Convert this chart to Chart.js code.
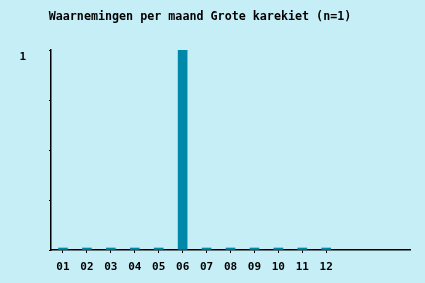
<!DOCTYPE html>
<html>
<head>
<meta charset="utf-8">
<script src="https://cdn.jsdelivr.net/npm/chart.js@4"></script>
<style>
  html, body { margin: 0; padding: 0; background: #c6eef6; }
  #wrap { width: 425px; height: 283px; }
</style>
</head>
<body>
<div id="wrap"><canvas id="maandgraf"></canvas></div>
<script>
// months 01..12, plus 3 empty slots the original axis runs on into
const maanden = ["01","02","03","04","05","06","07","08","09","10","11","12","","",""];
const aantallen = [0,0,0,0,0,1,0,0,0,0,0,0,null,null,null];
const titel = "Waarnemingen per maand Grote karekiet (n=1)";

const mono = "'DejaVu Sans Mono', 'Liberation Mono', monospace";

let maandChart = new Chart(document.getElementById("maandgraf"), {
    type: 'bar',
    data: {
    labels: maanden,
    datasets: [{
        data: aantallen,
        backgroundColor: "#0088a8",
        barThickness: 9,
        minBarLength: 2
        }]
    },
    options: {
    responsive: true,
    maintainAspectRatio: false,
    animation: false,
    layout: { padding: { left: -10, right: 15, top: 10, bottom: 9 } },
    plugins: {
        legend: { display: false },
        tooltip: { enabled: false },
        title: {
        display: true,
        text: titel,
        color: "#000",
        font: { family: mono, size: 11.7, weight: 'bold' },
        padding: { top: 0, bottom: 26 }
        }
    },
    scales: {
        x: {
        afterFit: s => { s.height = 24; },
        grid: {
            display: true,
            drawOnChartArea: false,
            offset: false,
            tickLength: 3,
            tickColor: ctx => ctx.index < 12 ? "#000" : "rgba(0,0,0,0)"
        },
        border: { color: "#000", width: 1.5 },
        ticks: {
            color: "#000",
            padding: 8,
            maxRotation: 0,
            autoSkip: false,
            font: { family: mono, size: 11, weight: 'bold' }
        }
        },
        y: {
        min: 0,
        max: 1,
        afterFit: s => { s.width = 61; },
        grid: { drawOnChartArea: false, tickLength: 2, tickColor: "#000" },
        border: { color: "#000", width: 1.5 },
        ticks: {
            stepSize: 0.25,
            color: "#000",
            padding: 23,
            labelOffset: 7,
            font: { family: mono, size: 11, weight: 'bold' },
            callback: v => v === 1 ? "1" : ""
        }
        }
    }
    }
});
</script>
</body>
</html>
